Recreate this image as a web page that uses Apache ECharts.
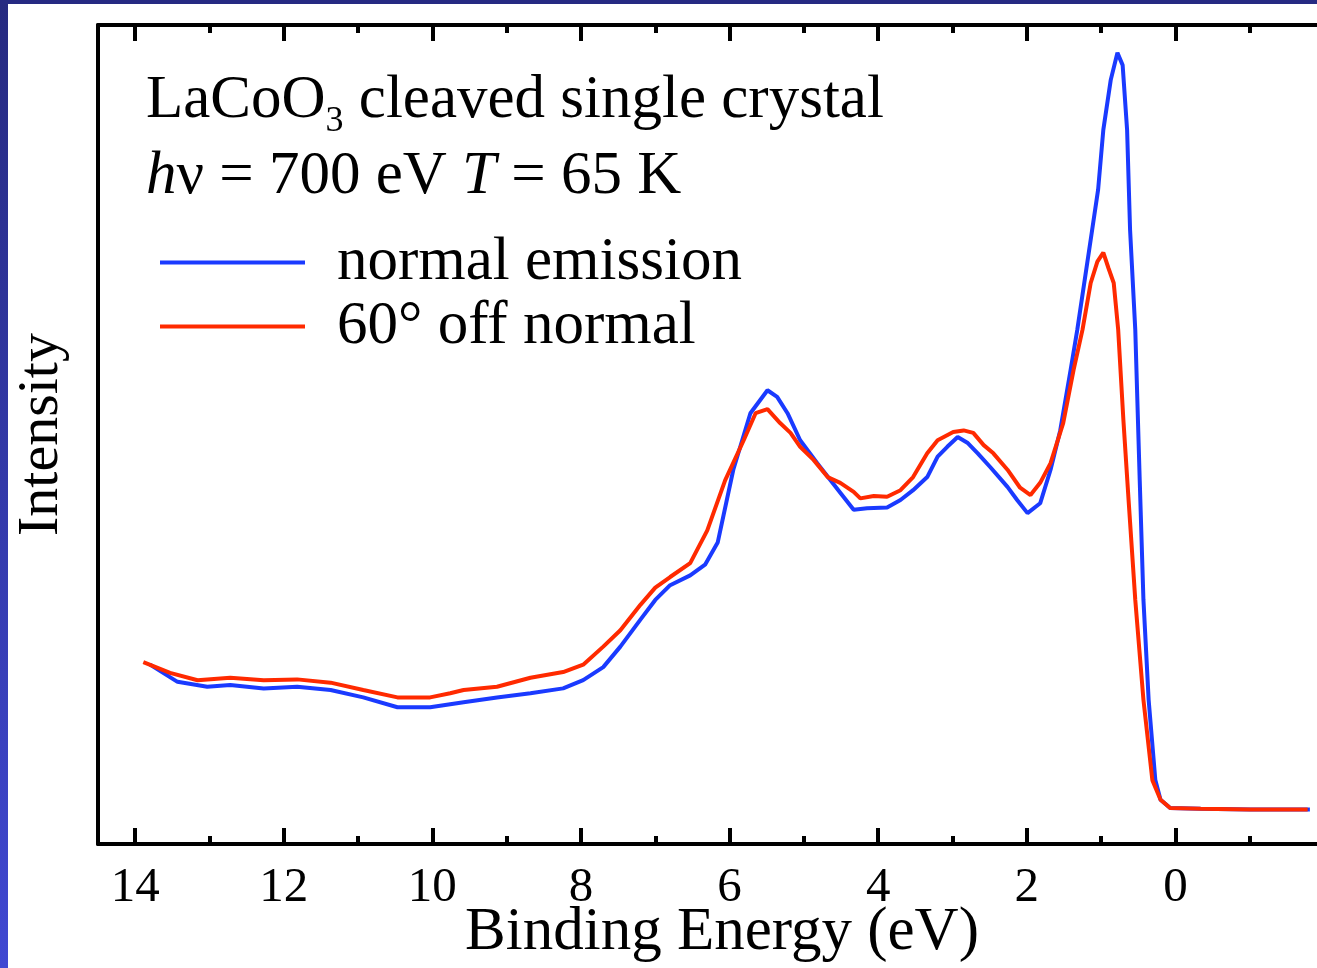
<!DOCTYPE html>
<html>
<head>
<meta charset="utf-8">
<script src="https://cdn.jsdelivr.net/npm/echarts@6/dist/echarts.min.js"></script>
<style>
html,body{margin:0;padding:0;background:#fff;}
#chart{width:1317px;height:968px;}
</style>
</head>
<body>
<div id="chart"></div>
<script>
// Binding energy (eV) and intensity (arb. units)
var blueEnergy = [13.80,13.43,13.03,12.72,12.27,11.82,11.37,10.93,10.47,10.03,9.58,9.13,8.68,8.24,7.97,7.70,7.47,7.20,7.00,6.80,6.53,6.33,6.16,5.95,5.72,5.49,5.36,5.22,5.05,4.82,4.51,4.33,4.15,3.88,3.70,3.53,3.34,3.20,3.07,2.93,2.80,2.66,2.49,2.26,2.13,1.99,1.82,1.68,1.55,1.41,1.32,1.12,1.04,0.97,0.87,0.78,0.71,0.65,0.61,0.54,0.48,0.43,0.36,0.27,0.20,0.07,-0.34,-1.01,-1.81];
var blueIntensity = [21.9,19.8,19.2,19.4,19.0,19.2,18.8,17.9,16.7,16.7,17.3,17.9,18.4,19.0,20.0,21.6,24.1,27.4,29.8,31.6,32.8,34.1,36.8,45.7,52.6,55.4,54.6,52.6,49.3,46.5,42.9,40.8,41.0,41.1,42.0,43.2,44.8,47.3,48.5,49.7,49.0,47.7,46.0,43.6,42.0,40.4,41.6,45.7,50.5,57.9,62.8,75.0,79.9,87.2,93.3,96.6,95.1,87.2,75.0,62.8,44.4,29.8,17.6,7.8,5.4,4.4,4.3,4.2,4.2];

var redEnergy = [13.89,13.53,13.16,12.72,12.27,11.82,11.37,10.93,10.47,10.03,9.76,9.58,9.13,8.68,8.24,7.97,7.70,7.47,7.20,7.00,6.80,6.53,6.30,6.06,5.81,5.65,5.49,5.32,5.18,5.05,4.87,4.68,4.51,4.33,4.24,4.06,3.88,3.70,3.53,3.34,3.20,2.99,2.85,2.72,2.58,2.45,2.26,2.09,1.95,1.82,1.68,1.51,1.37,1.25,1.14,1.05,0.97,0.90,0.83,0.77,0.70,0.63,0.54,0.43,0.31,0.20,0.07,-0.34,-1.01,-1.78];
var redIntensity = [22.2,20.9,20.0,20.3,20.0,20.1,19.7,18.8,17.9,17.9,18.4,18.8,19.2,20.3,21.0,21.9,24.1,26.1,29.2,31.3,32.6,34.3,38.3,44.4,49.3,52.6,53.1,51.4,50.2,48.5,46.9,44.8,44.1,43.0,42.2,42.5,42.4,43.2,44.8,47.7,49.3,50.3,50.5,50.2,48.7,47.7,45.7,43.5,42.6,44.1,46.5,51.4,57.9,62.8,68.5,71.1,72.2,70.3,68.5,62.8,51.8,42.0,29.8,17.6,7.8,5.4,4.4,4.3,4.2,4.2];

var seriesNames = ['normal emission', '60\u00b0 off normal'];
var seriesColors = ['#1a3aff', '#ff2a00'];
var tickLabels = ['14','12','10','8','6','4','2','0'];

function pairs(xs, ys){ var out=[]; for(var i=0;i<xs.length;i++){ out.push([xs[i], ys[i]]); } return out; }

var FONT = 'Liberation Serif';
var chart = echarts.init(document.getElementById('chart'), null, {renderer:'canvas'});

var axisCommon = {
  type:'value', min:-2, max:14.5, interval:2, inverse:true,
  axisLine:{show:true, onZero:false, lineStyle:{color:'#000', width:4}},
  axisTick:{show:true, inside:true, length:16, lineStyle:{color:'#000', width:4}},
  minorTick:{show:true, splitNumber:2, length:8, lineStyle:{color:'#000', width:4}},
  splitLine:{show:false}, minorSplitLine:{show:false}
};

var option = {
  backgroundColor:'#ffffff',
  animation:false,
  graphic:[
    {type:'rect', left:0, top:0, shape:{width:8, height:968}, z:100,
     style:{fill:{type:'linear', x:0, y:0, x2:0, y2:1, colorStops:[{offset:0,color:'#262a80'},{offset:1,color:'#4048d2'}]}}},
    {type:'rect', left:0, top:0, shape:{width:1317, height:4}, z:101, style:{fill:'#262a82'}}
  ],
  title:[
    {left:146, top:65, padding:0,
     text:'LaCoO{s|3} cleaved single crystal',
     textStyle:{fontFamily:FONT, fontSize:61, fontWeight:'normal', color:'#000', lineHeight:72,
       rich:{s:{fontFamily:FONT, fontSize:36, lineHeight:30, padding:[41,0,0,0], color:'#000'}}}},
    {left:146, top:141, padding:0,
     text:'{i|h}\u03bd = 700 eV {i|T} = 65 K',
     textStyle:{fontFamily:FONT, fontSize:61, fontWeight:'normal', color:'#000', lineHeight:72,
       rich:{i:{fontFamily:FONT, fontSize:61, fontStyle:'italic', lineHeight:72, color:'#000'}}}}
  ],
  legend:{
    orient:'vertical', left:160, top:232, padding:0, itemGap:3,
    icon:'rect', itemWidth:145, itemHeight:4, selectedMode:false,
    data:seriesNames,
    textStyle:{fontFamily:FONT, fontSize:61, color:'#000', padding:[0,0,0,27]}
  },
  grid:{left:98, top:25, width:1226, height:819, containLabel:false, outerBoundsMode:'none'},
  xAxis:[
    Object.assign({}, axisCommon, {
      position:'bottom',
      name:'Binding Energy (eV)', nameLocation:'middle', nameGap:58, nameMoveOverlap:false,
      nameTextStyle:{fontFamily:FONT, fontSize:61, color:'#000', padding:[0,0,0,22]},
      axisLabel:{show:true, margin:20, fontFamily:FONT, fontSize:49, color:'#000',
        formatter:function(v){ var s=String(v); return tickLabels.indexOf(s)>=0 ? s : ''; }}
    }),
    Object.assign({}, axisCommon, {position:'top', axisLabel:{show:false}})
  ],
  yAxis:{
    type:'value', min:0, max:100,
    axisLine:{show:true, onZero:false, lineStyle:{color:'#000', width:4}},
    axisTick:{show:false}, axisLabel:{show:false}, splitLine:{show:false},
    name:'Intensity', nameLocation:'middle', nameGap:27, nameMoveOverlap:false,
    nameTextStyle:{fontFamily:FONT, fontSize:58, color:'#000'}
  },
  series:[
    {name:seriesNames[0], type:'line', xAxisIndex:0, data:pairs(blueEnergy, blueIntensity),
     showSymbol:false, symbol:'none', color:seriesColors[0], lineStyle:{width:4, color:seriesColors[0]}, z:2},
    {name:seriesNames[1], type:'line', xAxisIndex:0, data:pairs(redEnergy, redIntensity),
     showSymbol:false, symbol:'none', color:seriesColors[1], lineStyle:{width:4, color:seriesColors[1]}, z:3}
  ]
};
chart.setOption(option);
</script>
</body>
</html>
